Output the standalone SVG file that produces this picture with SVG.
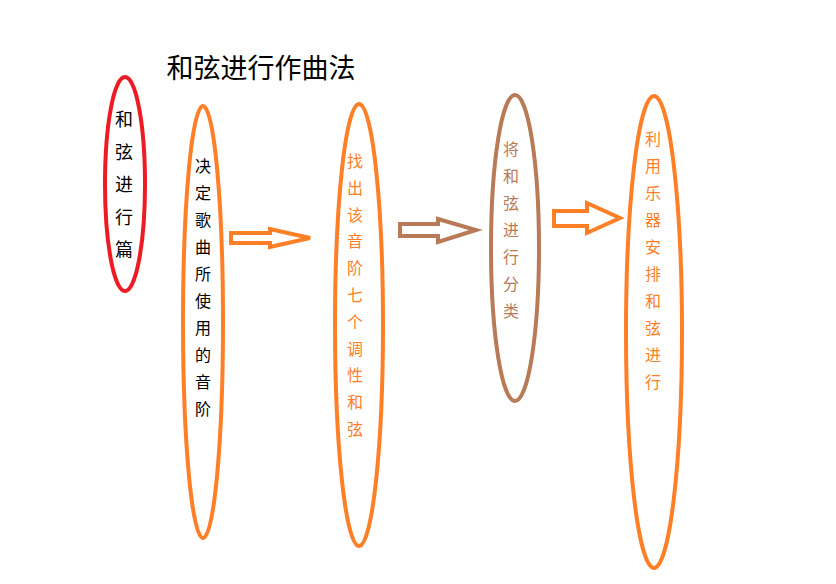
<svg xmlns="http://www.w3.org/2000/svg" width="836" height="584" viewBox="0 0 836 584">
<style>
text{font-family:"Noto Sans CJK SC","Microsoft YaHei",sans-serif;text-anchor:middle;dominant-baseline:central}
.e{fill:none;stroke-width:4}
.v{font-size:16px}
.arr{fill:#fff;stroke-width:4;stroke-linejoin:miter}
</style>
<rect width="836" height="584" fill="#fff"/>
<text id="title" x="261" y="66" style="font-size:27px" fill="#000">和弦进行作曲法</text>
<g id="n0">
<ellipse class="e" cx="125" cy="184" rx="20" ry="107" stroke="#ED1C24"/>
<text fill="#000" style="font-size:18px"><tspan x="124" y="118">和</tspan><tspan x="124" y="150.5">弦</tspan><tspan x="124" y="183">进</tspan><tspan x="124" y="215.5">行</tspan><tspan x="124" y="248">篇</tspan></text>
</g>
<g id="n1">
<ellipse class="e" cx="203" cy="322" rx="20" ry="216" stroke="#FF7F27"/>
<text class="v" fill="#000"><tspan x="203" y="165">决</tspan><tspan x="203" y="192">定</tspan><tspan x="203" y="219">歌</tspan><tspan x="203" y="246">曲</tspan><tspan x="203" y="273">所</tspan><tspan x="203" y="300">使</tspan><tspan x="203" y="327">用</tspan><tspan x="203" y="354">的</tspan><tspan x="203" y="381">音</tspan><tspan x="203" y="408">阶</tspan></text>
</g>
<g id="n2">
<ellipse class="e" cx="359" cy="325" rx="24" ry="221" stroke="#FF7F27"/>
<text class="v" fill="#FF7F27"><tspan x="355" y="160">找</tspan><tspan x="355" y="186.8">出</tspan><tspan x="355" y="213.6">该</tspan><tspan x="355" y="240.4">音</tspan><tspan x="355" y="267.2">阶</tspan><tspan x="355" y="294">七</tspan><tspan x="355" y="320.8">个</tspan><tspan x="355" y="347.6">调</tspan><tspan x="355" y="374.4">性</tspan><tspan x="355" y="401.2">和</tspan><tspan x="355" y="428">弦</tspan></text>
</g>
<g id="n3">
<ellipse class="e" cx="515" cy="248" rx="24" ry="153" stroke="#B97A57"/>
<text class="v" fill="#B97A57"><tspan x="511" y="148">将</tspan><tspan x="511" y="175">和</tspan><tspan x="511" y="202">弦</tspan><tspan x="511" y="229">进</tspan><tspan x="511" y="256">行</tspan><tspan x="511" y="283">分</tspan><tspan x="511" y="310">类</tspan></text>
</g>
<g id="n4">
<ellipse class="e" cx="654" cy="332" rx="28" ry="236" stroke="#FF7F27"/>
<text class="v" fill="#FF7F27"><tspan x="653" y="138">利</tspan><tspan x="653" y="165">用</tspan><tspan x="653" y="192">乐</tspan><tspan x="653" y="219">器</tspan><tspan x="653" y="246">安</tspan><tspan x="653" y="273">排</tspan><tspan x="653" y="300">和</tspan><tspan x="653" y="327">弦</tspan><tspan x="653" y="354">进</tspan><tspan x="653" y="381">行</tspan></text>
</g>
<g id="connectors">
<polygon class="arr" stroke="#FF7F27" points="231,233 270,233 270,229 310,238 270,247 270,243 231,243"/>
<polygon class="arr" stroke="#B97A57" points="400,224 438,224 438,219 476,230 438,242 438,236 400,236"/>
<polygon class="arr" stroke="#FF7F27" points="554,211 587,211 587,203 620,218 587,233 587,226 554,226"/>
</g>
</svg>
